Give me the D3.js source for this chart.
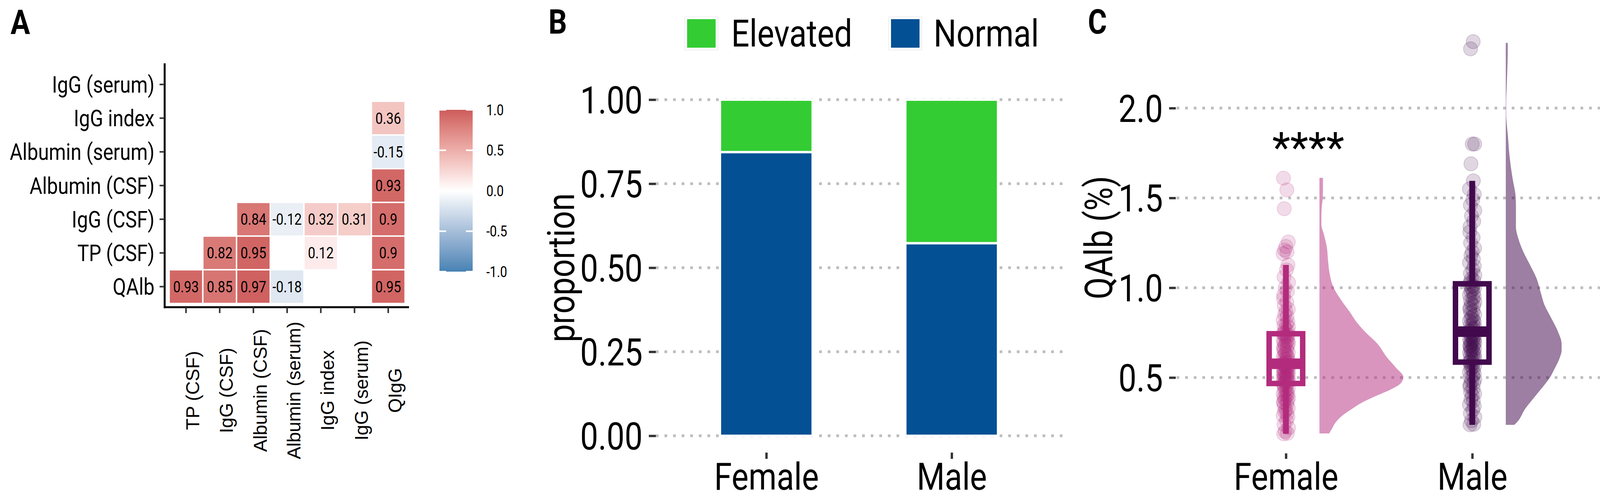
<!DOCTYPE html>
<html><head><meta charset="utf-8">
<script src="https://cdn.jsdelivr.net/npm/d3@7"></script>
<style>body{margin:0;background:#fff} svg{display:block;background:#fff}</style>
</head><body>
<svg id="chart" width="4133" height="1287"></svg>
<script>
// ================= DATA =================
// Panel A: correlation matrix (blank cells = not shown)
const corrRows = ["IgG (serum)","IgG index","Albumin (serum)","Albumin (CSF)","IgG (CSF)","TP (CSF)","QAlb"];
const corrCols = ["TP (CSF)","IgG (CSF)","Albumin (CSF)","Albumin (serum)","IgG index","IgG (serum)","QIgG"];
const corrCellRow = ["IgG index","Albumin (serum)","Albumin (CSF)","IgG (CSF)","IgG (CSF)","IgG (CSF)","IgG (CSF)","IgG (CSF)","TP (CSF)","TP (CSF)","TP (CSF)","TP (CSF)","QAlb","QAlb","QAlb","QAlb","QAlb"];
const corrCellCol = ["QIgG","QIgG","QIgG","Albumin (CSF)","Albumin (serum)","IgG index","IgG (serum)","QIgG","IgG (CSF)","Albumin (CSF)","IgG index","QIgG","TP (CSF)","IgG (CSF)","Albumin (CSF)","Albumin (serum)","QIgG"];
const corrCellValue = [0.36,-0.15,0.93,0.84,-0.12,0.32,0.31,0.9,0.82,0.95,0.12,0.9,0.93,0.85,0.97,-0.18,0.95];
const corrLegendTicks = [1.0,0.5,0.0,-0.5,-1.0];

// Panel B: proportion of elevated / normal by sex
const sexes = ["Female","Male"];
const statusLevels = ["Normal","Elevated"];
const normalProp = [0.844,0.573];
const elevatedProp = [0.156,0.427];
const propTicks = [0,0.25,0.5,0.75,1];

// Panel C: QAlb (%) by sex
const qalbTicks = [0.5,1.0,1.5,2.0];
const femaleQAlb = [0.187,0.19,0.20,0.22,0.24,0.26,0.28,0.29,0.30,0.31,0.32,0.33,0.34,0.35,0.36,0.365,0.37,0.38,0.385,0.39,0.40,0.405,0.41,0.42,0.425,0.43,0.44,0.45,0.455,0.46,
 0.467,0.47,0.475,0.48,0.485,0.49,0.49,0.495,0.50,0.50,0.505,0.51,0.51,0.515,0.52,0.525,0.53,0.53,0.535,0.54,0.545,0.55,0.55,0.555,0.56,0.56,0.565,0.57,0.57,0.575,
 0.577,0.58,0.585,0.59,0.60,0.60,0.61,0.615,0.62,0.63,0.635,0.64,0.65,0.655,0.66,0.67,0.675,0.68,0.69,0.695,0.70,0.705,0.71,0.72,0.725,0.73,0.735,0.74,0.74,0.744,
 0.75,0.76,0.77,0.78,0.79,0.80,0.81,0.82,0.84,0.85,0.87,0.88,0.90,0.92,0.94,0.96,0.98,1.00,1.03,1.06,1.10,1.127,1.19,1.20,1.21,1.23,1.255,1.44,1.545,1.61];
const maleQAlb = [0.237,0.24,0.26,0.28,0.30,0.32,0.34,0.35,0.37,0.38,0.40,0.41,0.42,0.44,0.45,0.46,0.47,0.48,0.49,0.50,0.51,0.52,0.53,0.54,0.55,0.56,0.565,0.57,0.58,0.585,
 0.59,0.60,0.605,0.61,0.62,0.625,0.63,0.64,0.645,0.65,0.655,0.66,0.665,0.67,0.675,0.68,0.685,0.69,0.695,0.70,0.705,0.71,0.715,0.72,0.725,0.73,0.735,0.74,0.745,0.755,
 0.76,0.77,0.775,0.78,0.79,0.80,0.81,0.815,0.82,0.83,0.84,0.85,0.86,0.87,0.88,0.89,0.90,0.91,0.92,0.93,0.94,0.95,0.96,0.97,0.98,0.99,1.00,1.005,1.01,1.02,
 1.03,1.04,1.05,1.07,1.08,1.10,1.12,1.14,1.16,1.18,1.20,1.22,1.25,1.28,1.31,1.34,1.37,1.40,1.43,1.46,1.49,1.52,1.55,1.595,1.69,1.80,1.80,2.33,2.37];
const pointJitter = [-0.012,0.008,-0.004,0.014,-0.010,0.003,0.011,-0.015,0.006,-0.007,0.000,0.013,-0.009,0.005,-0.013];
// box statistics: lower whisker, Q1, median, Q3, upper whisker
const boxLower  = [0.187,0.237];
const boxQ1     = [0.467,0.586];
const boxMedian = [0.577,0.756];
const boxQ3     = [0.744,1.022];
const boxUpper  = [1.127,1.595];
// half-violin density estimates
const femaleDensityV = [1.612,1.55,1.50,1.45,1.40,1.35,1.30,1.225,1.15,1.08,1.007,0.933,0.861,0.818,0.759,0.687,0.615,0.557,0.502,0.470,0.433,0.398,0.361,0.324,0.289,0.252,0.215,0.189];
const femaleDensityD = [0.09,0.09,0.085,0.06,0.05,0.05,0.11,0.19,0.22,0.26,0.35,0.55,0.79,0.92,1.15,1.49,1.72,1.95,2.15,2.09,1.82,1.45,1.09,0.82,0.59,0.42,0.32,0.25];
const maleDensityV = [2.363,2.30,2.217,2.10,2.037,1.965,1.90,1.856,1.747,1.673,1.601,1.514,1.456,1.340,1.268,1.195,1.123,1.051,0.977,0.905,0.833,0.759,0.687,0.650,0.615,0.541,0.500,0.470,0.398,0.324,0.252,0.237];
const maleDensityD = [0.05,0.05,0.04,0.02,0.01,0.01,0.03,0.05,0.09,0.13,0.18,0.25,0.26,0.26,0.33,0.46,0.63,0.79,0.89,0.99,1.16,1.33,1.43,1.43,1.39,1.23,1.13,1.03,0.76,0.49,0.29,0.22];
const sigLabel = "****";
const sigX = 1.12, sigY = 1.70;

// ================= STYLE =================
const SX = 0.845;                  // horizontal squeeze to mimic a condensed face
const FONT = "Roboto";
const TICK = "#333333";
const GRID = "#BEBEBE";
const sexColor = ["#B32B7D","#420A4D"];
const statusColor = {Elevated:"#33CC33", Normal:"#035095"};
const minusFmt = f => (v => f(v).replace("\u2212","-"));

const svg = d3.select("#chart");

function ctext(parent, x, y, str, o = {}) {
  const g = parent.append("g").attr("transform", `translate(${x},${y})` + (o.rotate ? ` rotate(${o.rotate})` : ""));
  g.append("text")
    .attr("transform", `scale(${o.sx ?? SX},1)`)
    .attr("text-anchor", o.anchor || "start")
    .attr("dy", o.dy || 0)
    .attr("fill", o.fill || "#000")
    .style("font-family", o.family || FONT)
    .style("font-size", (o.size || 20) + "px")
    .style("font-weight", o.weight || 400)
    .text(str);
  return g;
}
function restyleTicks(g, width) {
  g.select(".domain").remove();
  g.selectAll(".tick line").attr("stroke", TICK).attr("stroke-width", width);
}
function squeezeTickText(g, dx, dy, size, anchor, dyEm) {
  g.selectAll(".tick text")
    .attr("x", null).attr("y", null).attr("dy", dyEm)
    .attr("text-anchor", anchor)
    .attr("fill", "#000")
    .attr("transform", `translate(${dx},${dy}) scale(${SX},1)`)
    .style("font-family", FONT).style("font-size", size + "px");
}

// ================= PANEL A =================
const pA = svg.append("g");
ctext(pA, 27, 87, "A", {size: 88, weight: 700});

const xA = d3.scaleBand().domain(corrCols).range([433, 1037]);
const yA = d3.scaleBand().domain(corrRows).range([173, 776.5]);
const colA = d3.scaleLinear().domain([-1, 0, 1]).range(["#4682B4", "#FFFFFF", "#CD5C5C"]).interpolate(d3.interpolateLab);
const cells = corrCellValue.map((v, i) => ({row: corrCellRow[i], col: corrCellCol[i], v}));

pA.selectAll("rect.cell").data(cells).join("rect").attr("class", "cell")
  .attr("x", d => xA(d.col)).attr("y", d => yA(d.row))
  .attr("width", xA.bandwidth()).attr("height", yA.bandwidth())
  .attr("fill", d => colA(d.v)).attr("stroke", "#fff").attr("stroke-width", 3.5);
cells.forEach(d => ctext(pA, xA(d.col) + xA.bandwidth() / 2, yA(d.row) + yA.bandwidth() / 2, String(d.v),
  {size: 40, anchor: "middle", dy: "0.355em"}));

// axis lines
pA.append("line").attr("x1", 421.5).attr("x2", 421.5).attr("y1", 162).attr("y2", 788.5).attr("stroke", "#000").attr("stroke-width", 5);
pA.append("line").attr("x1", 419).attr("x2", 1047).attr("y1", 786).attr("y2", 786).attr("stroke", "#000").attr("stroke-width", 5);

const yAxA = pA.append("g").attr("transform", "translate(421.5,0)").call(d3.axisLeft(yA).tickSize(13).tickSizeOuter(0));
restyleTicks(yAxA, 4);
squeezeTickText(yAxA, -26, 0, 59, "end", "0.355em");

const xAxA = pA.append("g").attr("transform", "translate(0,786)").call(d3.axisBottom(xA).tickSize(15).tickSizeOuter(0));
restyleTicks(xAxA, 4);
xAxA.selectAll(".tick text")
  .attr("x", null).attr("y", null).attr("dy", null)
  .attr("transform", "translate(34,213) rotate(-90)")
  .attr("text-anchor", "middle").attr("fill", "#000")
  .style("font-family", "Liberation Sans, Arial, sans-serif").style("font-size", "48px");

// colour bar legend
const yLeg = d3.scaleLinear().domain([-1, 1]).range([695, 281]);
const defs = svg.append("defs");
const grad = defs.append("linearGradient").attr("id", "corrGrad").attr("x1", 0).attr("x2", 0).attr("y1", 0).attr("y2", 1);
d3.range(0, 21).forEach(i => {
  const v = 1 - i / 10;
  grad.append("stop").attr("offset", (i / 20 * 100) + "%").attr("stop-color", colA(v));
});
pA.append("rect").attr("x", 1125).attr("y", yLeg(1)).attr("width", 85).attr("height", yLeg(-1) - yLeg(1)).attr("fill", "url(#corrGrad)");
corrLegendTicks.forEach(t => {
  pA.append("line").attr("x1", 1125).attr("x2", 1142).attr("y1", yLeg(t)).attr("y2", yLeg(t)).attr("stroke", "#fff").attr("stroke-width", 4);
  pA.append("line").attr("x1", 1193).attr("x2", 1210).attr("y1", yLeg(t)).attr("y2", yLeg(t)).attr("stroke", "#fff").attr("stroke-width", 4);
  ctext(pA, 1245, yLeg(t), minusFmt(d3.format(".1f"))(t), {size: 38, dy: "0.355em"});
});

// ================= PANEL B =================
const pB = svg.append("g");
ctext(pB, 1404, 86, "B", {size: 88, weight: 700});

const yB = d3.scaleLinear().domain([-0.05, 1.05]).range([1158, 212]);
const xB = d3.scalePoint().domain(sexes).range([1677, 2721]).padding(0.6);
const barW = xB.step() * 0.5;

pB.selectAll("line.grid").data(propTicks).join("line").attr("class", "grid")
  .attr("x1", 1679).attr("x2", 2721).attr("y1", d => yB(d)).attr("y2", d => yB(d))
  .attr("stroke", GRID).attr("stroke-width", 7).attr("stroke-dasharray", "7 15");

const tableB = sexes.map((s, i) => ({sex: s, Normal: normalProp[i], Elevated: elevatedProp[i]}));
const stackB = d3.stack().keys(statusLevels)(tableB);
stackB.forEach(layer => {
  pB.selectAll(null).data(layer).join("rect")
    .attr("x", d => xB(d.data.sex) - barW / 2).attr("width", barW)
    .attr("y", d => yB(d[1])).attr("height", d => yB(d[0]) - yB(d[1]))
    .attr("fill", statusColor[layer.key]).attr("stroke", "#fff").attr("stroke-width", 6);
});

const yAxB = pB.append("g").attr("transform", "translate(1679,0)").call(d3.axisLeft(yB).tickValues(propTicks).tickSize(18).tickFormat(d3.format(".2f")));
restyleTicks(yAxB, 6);
squeezeTickText(yAxB, -34, 0, 97, "end", "0.355em");

const xAxB = pB.append("g").attr("transform", "translate(0,1158)").call(d3.axisBottom(xB).tickSize(16).tickSizeOuter(0));
restyleTicks(xAxB, 6);
squeezeTickText(xAxB, 0, 95, 97, "middle", null);

ctext(pB, 1470, 685, "proportion", {size: 97, anchor: "middle", rotate: -90});

// legend
const legB = [{key: "Elevated", x: 1759, tx: 1872}, {key: "Normal", x: 2281, tx: 2390}];
legB.forEach(l => {
  pB.append("rect").attr("x", l.x - 6).attr("y", 43).attr("width", 85).attr("height", 85).attr("fill", "none").attr("stroke", "#F0F0F0").attr("stroke-width", 2);
  pB.append("rect").attr("x", l.x).attr("y", 49).attr("width", 73).attr("height", 73).attr("fill", statusColor[l.key]);
  ctext(pB, l.tx, 119, l.key, {size: 97});
});

// ================= PANEL C =================
const pC = svg.append("g");
ctext(pC, 2785, 86, "C", {size: 88, weight: 700});

const yC = d3.scaleLinear().domain([0.078, 2.48]).range([1160, 56]);
const xC = d3.scaleLinear().domain([0.409, 2.715]).range([3010, 4110]);
const xCpos = d3.scaleOrdinal().domain(sexes).range([1, 2]);
const boxHalf = 0.09, violinOffset = 0.18, densUnit = 0.2096;

pC.selectAll("line.grid").data(qalbTicks).join("line").attr("class", "grid")
  .attr("x1", 3012).attr("x2", 4110).attr("y1", d => yC(d)).attr("y2", d => yC(d))
  .attr("stroke", GRID).attr("stroke-width", 7).attr("stroke-dasharray", "7 15");

const groupsC = [
  {sex: "Female", vals: femaleQAlb, dv: femaleDensityV, dd: femaleDensityD},
  {sex: "Male", vals: maleQAlb, dv: maleDensityV, dd: maleDensityD}
];
groupsC.forEach((g, gi) => {
  const pos = xCpos(g.sex), col = sexColor[gi];
  const dens = g.dv.map((v, i) => ({v, d: g.dd[i]}));
  const area = d3.area().curve(d3.curveMonotoneY)
    .y(d => yC(d.v)).x0(xC(pos + violinOffset)).x1(d => xC(pos + violinOffset + d.d * densUnit));
  pC.append("path").datum(dens).attr("d", area).attr("fill", col).attr("fill-opacity", gi === 0 ? 0.5 : 0.52);

  pC.selectAll(null).data(g.vals).join("circle")
    .attr("cx", (d, i) => xC(pos + pointJitter[i % pointJitter.length]))
    .attr("cy", d => yC(d)).attr("r", 18)
    .attr("fill", col).attr("fill-opacity", 0.17)
    .attr("stroke", col).attr("stroke-opacity", 0.18).attr("stroke-width", 2);

  // boxplot
  pC.append("line").attr("x1", xC(pos)).attr("x2", xC(pos)).attr("y1", yC(boxQ3[gi])).attr("y2", yC(boxUpper[gi]))
    .attr("stroke", col).attr("stroke-width", 15);
  pC.append("line").attr("x1", xC(pos)).attr("x2", xC(pos)).attr("y1", yC(boxQ1[gi])).attr("y2", yC(boxLower[gi]))
    .attr("stroke", col).attr("stroke-width", 15);
  pC.append("rect").attr("x", xC(pos - boxHalf)).attr("width", xC(pos + boxHalf) - xC(pos - boxHalf))
    .attr("y", yC(boxQ3[gi])).attr("height", yC(boxQ1[gi]) - yC(boxQ3[gi]))
    .attr("fill", "none").attr("stroke", col).attr("stroke-width", 14);
  pC.append("line").attr("x1", xC(pos - boxHalf)).attr("x2", xC(pos + boxHalf))
    .attr("y1", yC(boxMedian[gi])).attr("y2", yC(boxMedian[gi]))
    .attr("stroke", col).attr("stroke-width", 27);
});

pC.append("text").attr("x", xC(sigX)).attr("y", yC(sigY)).attr("text-anchor", "middle")
  .style("font-family", FONT).style("font-size", "107px").attr("fill", "#000").text(sigLabel);

const yAxC = pC.append("g").attr("transform", "translate(3010,0)").call(d3.axisLeft(yC).tickValues(qalbTicks).tickSize(17).tickFormat(d3.format(".1f")));
restyleTicks(yAxC, 6);
squeezeTickText(yAxC, -33, 0, 97, "end", "0.355em");

const xAxC = pC.append("g").attr("transform", "translate(0,1160)")
  .call(d3.axisBottom(xC).tickValues(sexes.map(s => xCpos(s))).tickFormat((d, i) => sexes[i]).tickSize(14).tickSizeOuter(0));
restyleTicks(xAxC, 6);
squeezeTickText(xAxC, 0, 93, 97, "middle", null);

ctext(pC, 2847, 608, "QAlb (%)", {size: 98, anchor: "middle", rotate: -90});
</script>
</body></html>
